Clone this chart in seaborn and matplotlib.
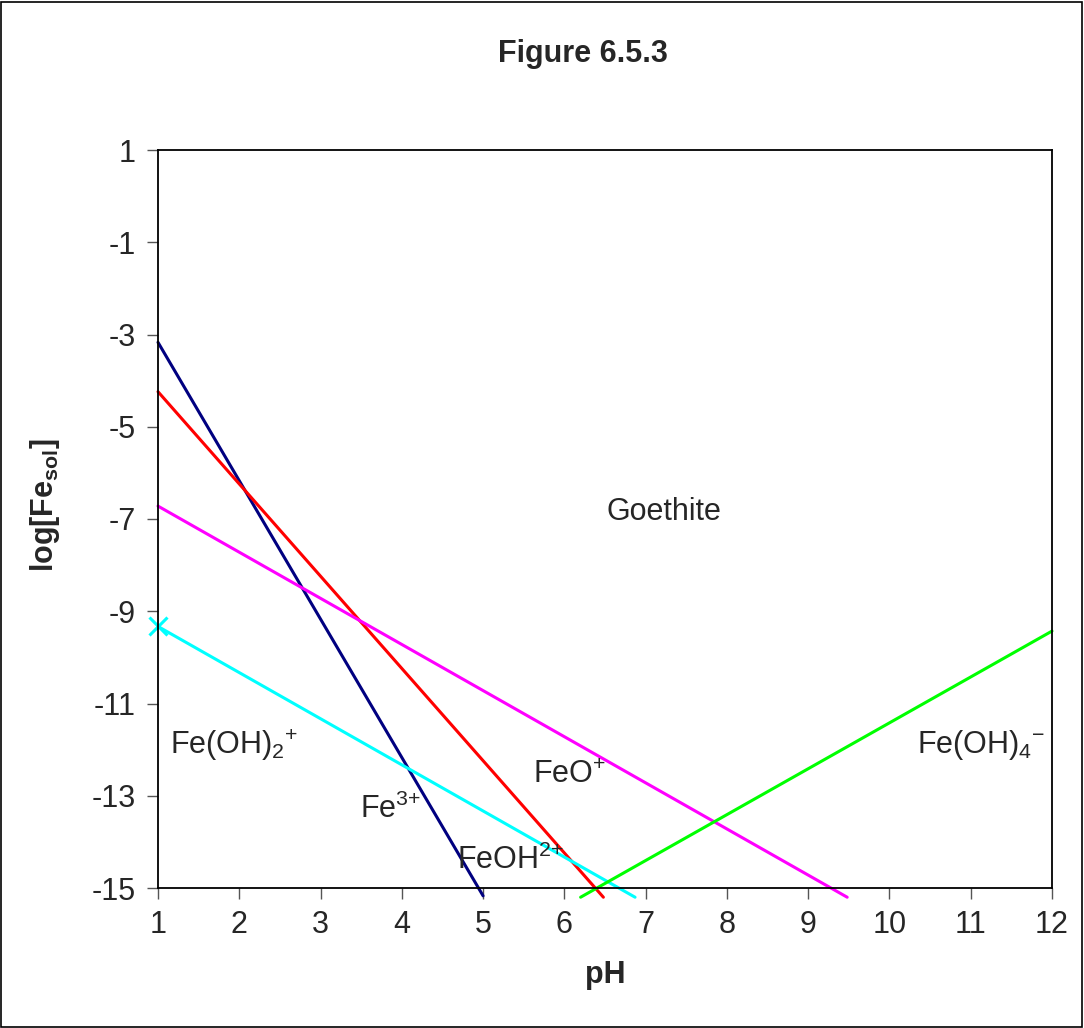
import matplotlib
matplotlib.use("Agg")
import matplotlib.pyplot as plt
import seaborn as sns
import pandas as pd
from matplotlib.patches import Rectangle

# Line end points (pH, log[Fe_sol])
fe3_ph = [1, 5]
fe3_log = [-3.17, -15.17]
feoh_ph = [1, 6.48]
feoh_log = [-4.24, -15.2]
feo_ph = [1, 9.48]
feo_log = [-6.72, -15.2]
feoh2_ph = [1, 6.87]
feoh2_log = [-9.33, -15.2]
feoh4_ph = [6.2, 12]
feoh4_log = [-15.2, -9.43]

series = [
    (fe3_ph, fe3_log, "#000080"),
    (feoh_ph, feoh_log, "#FF0000"),
    (feo_ph, feo_log, "#FF00FF"),
    (feoh2_ph, feoh2_log, "#00FFFF"),
    (feoh4_ph, feoh4_log, "#00FF00"),
]

# species labels: (text, pH, log)
labels = [
    ("Goethite", 6.52, -6.85),
    (r"Fe(OH)$_2$$^{{+}}$", 1.15, -11.9),
    (r"Fe$^{3{+}}$", 3.48, -13.3),
    (r"FeOH$^{2{+}}$", 4.68, -14.4),
    (r"FeO$^{{+}}$", 5.61, -12.55),
    (r"Fe(OH)$_4$$^{{-}}$", 10.34, -11.9),
]

sns.set_style("white")
plt.rcParams["font.family"] = ["Liberation Sans", "DejaVu Sans"]
plt.rcParams["mathtext.fontset"] = "custom"
plt.rcParams["mathtext.rm"] = "Liberation Sans"
plt.rcParams["mathtext.it"] = "Liberation Sans"
plt.rcParams["mathtext.bf"] = "Liberation Sans:bold"
plt.rcParams["axes.unicode_minus"] = False

fig = plt.figure(figsize=(10.84, 10.28), dpi=100)
ax = fig.add_axes([158 / 1084, 1 - 888 / 1028, (1052 - 158) / 1084, (888 - 150) / 1028])

for xs, ys, c in series:
    df = pd.DataFrame({"pH": xs, "log": ys})
    sns.lineplot(data=df, x="pH", y="log", color=c, lw=2.2, ax=ax)
for l in ax.get_lines():
    l.set_clip_on(False)

# marker at the start of the cyan series
ax.plot(feoh2_ph[:1], feoh2_log[:1], marker="x", color="#00FFFF", ms=13, mew=2.2, clip_on=False)

for txt, x, y in labels:
    ax.text(x, y, txt, fontsize=22, va="center", ha="left")

ax.set_xlim(1, 12)
ax.set_ylim(-15, 1)
ax.set_xticks(range(1, 13))
ax.set_yticks(range(-15, 2, 2))
ax.tick_params(axis="both", labelsize=22, direction="out", length=8, width=1, color="#555555",
               bottom=True, left=True, top=False, right=False, pad=8)
for s in ax.spines.values():
    s.set_color("black")
    s.set_linewidth(1.3)
ax.set_xlabel("")
ax.set_ylabel("")

fig.text(605 / 1084, 1 - 975 / 1028, "pH", fontsize=22, fontweight="bold", ha="center", va="center")
fig.text(45 / 1084, 1 - 505 / 1028, r"log[Fe$_{\mathbf{sol}}$]", fontsize=22, fontweight="bold",
         rotation=90, ha="center", va="center")
fig.text(583 / 1084, 1 - 54 / 1028, "Figure 6.5.3", fontsize=22, fontweight="bold", ha="center", va="center")

fig.patches.append(Rectangle((0.001, 0.001), 0.997, 0.997, transform=fig.transFigure,
                             fill=False, edgecolor="black", lw=1.2))

fig.savefig("out.png", dpi=100)
